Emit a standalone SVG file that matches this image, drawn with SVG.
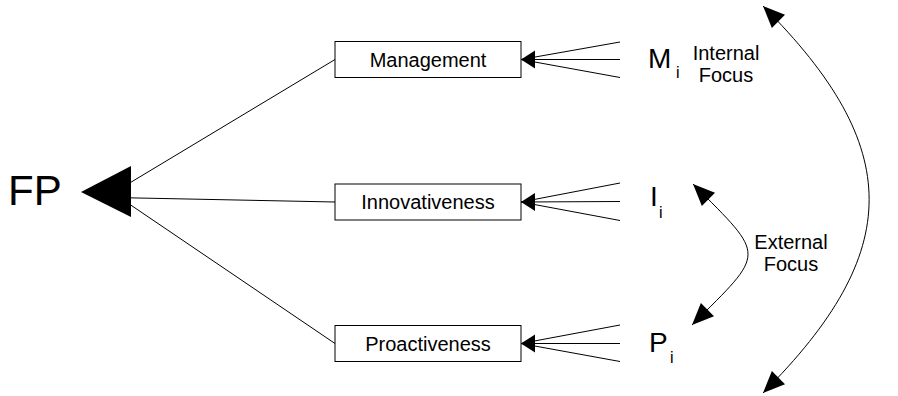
<svg xmlns="http://www.w3.org/2000/svg" width="898" height="396" viewBox="0 0 898 396">
<style>
  text { font-family: "Liberation Sans", Arial, sans-serif; fill: #000; }
  .box { fill: #fff; stroke: #000; stroke-width: 1; }
  .lbl { font-size: 20px; text-anchor: middle; }
  .var { font-size: 28px; }
  .sub { font-size: 16px; }
  .ln { stroke: #000; stroke-width: 1; fill: none; }
</style>
<defs>
  <marker id="ah" markerUnits="userSpaceOnUse" markerWidth="24" markerHeight="20" viewBox="-21 -9 22 18" refX="0" refY="0" orient="auto-start-reverse">
    <path d="M0,0 L-20,-8.5 L-20,8.5 z" fill="#000"/>
  </marker>
  <marker id="sh" markerUnits="userSpaceOnUse" markerWidth="16" markerHeight="20" viewBox="-15 -10 16 20" refX="0" refY="0" orient="auto">
    <path d="M0,0 L-14,-9 L-14,9 z" fill="#000"/>
  </marker>
</defs>

<g id="connectors">
  <!-- FP to boxes -->
  <line class="ln" x1="113" y1="193" x2="335" y2="59.5"/>
  <line class="ln" x1="113" y1="197.5" x2="335" y2="202"/>
  <line class="ln" x1="113" y1="193" x2="335" y2="343.5"/>
  <polygon points="81,192 131,166 131,217" fill="#000"/>
  <!-- Management fan -->
  <line class="ln" x1="620" y1="42" x2="521" y2="59.5"/>
  <line class="ln" x1="620" y1="77.5" x2="521" y2="59.5"/>
  <line class="ln" x1="620" y1="59.5" x2="521" y2="59.5" marker-end="url(#sh)"/>
  <!-- Innovativeness fan -->
  <line class="ln" x1="620" y1="183" x2="521" y2="202"/>
  <line class="ln" x1="620" y1="220.5" x2="521" y2="202"/>
  <line class="ln" x1="620" y1="201.5" x2="521" y2="202" marker-end="url(#sh)"/>
  <!-- Proactiveness fan -->
  <line class="ln" x1="620" y1="325" x2="521" y2="343.5"/>
  <line class="ln" x1="620" y1="361.5" x2="521" y2="343.5"/>
  <line class="ln" x1="620" y1="343.5" x2="521" y2="343.5" marker-end="url(#sh)"/>
  <!-- focus arcs -->
  <path class="ln" d="M693,184 C767,258 766,251 692,325" marker-start="url(#ah)" marker-end="url(#ah)"/>
  <path class="ln" d="M763,6 C904.5,147.5 904.5,251.5 763,393" marker-start="url(#ah)" marker-end="url(#ah)"/>
</g>

<g id="fp">
  <text x="8" y="205" font-size="42">FP</text>
</g>

<g id="management">
  <rect class="box" x="335" y="41.5" width="186" height="36"/>
  <text class="lbl" x="428" y="66.5">Management</text>
</g>

<g id="innovativeness">
  <rect class="box" x="335" y="184" width="186" height="36"/>
  <text class="lbl" x="428" y="209">Innovativeness</text>
</g>

<g id="proactiveness">
  <rect class="box" x="335" y="325.5" width="186" height="36"/>
  <text class="lbl" x="428" y="350.5">Proactiveness</text>
</g>

<g id="mi">
  <text class="var" x="648" y="68">M</text>
  <text class="sub" x="676" y="78">i</text>
</g>

<g id="ii">
  <text class="var" x="650" y="206">I</text>
  <text class="sub" x="659" y="218">i</text>
</g>

<g id="pi">
  <text class="var" x="649" y="352">P</text>
  <text class="sub" x="670" y="363">i</text>
</g>

<g id="internal-focus">
  <text class="lbl" x="726" y="60">Internal</text>
  <text class="lbl" x="726" y="82">Focus</text>
</g>

<g id="external-focus">
  <text class="lbl" x="791" y="249">External</text>
  <text class="lbl" x="791" y="271">Focus</text>
</g>
</svg>
